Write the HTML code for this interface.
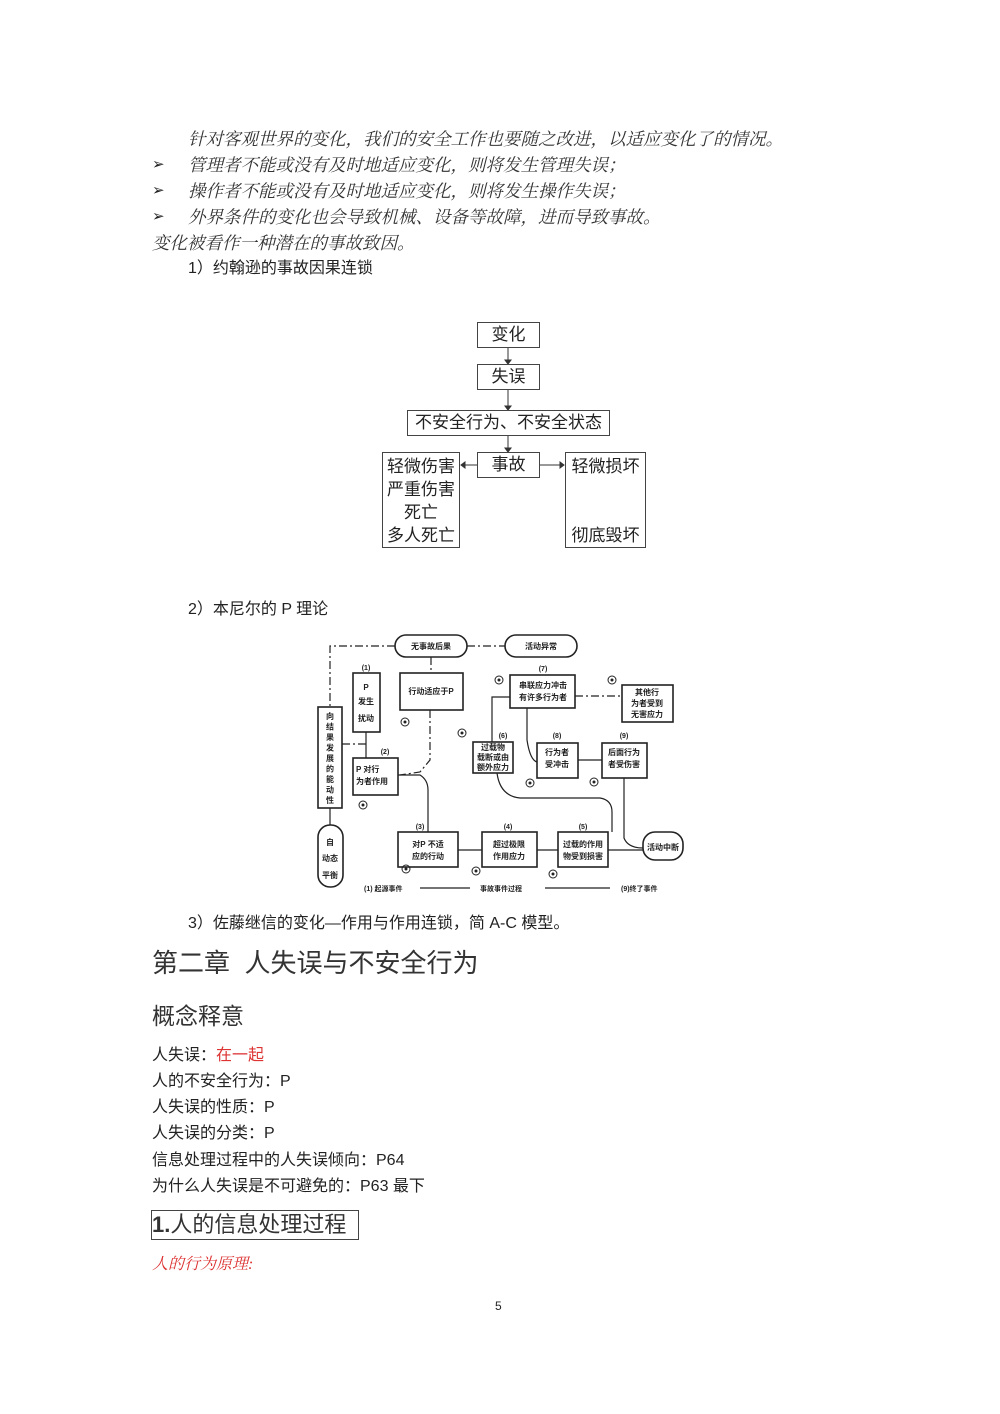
<!DOCTYPE html>
<html><head><meta charset="utf-8"><style>
body{margin:0;background:#fff;}
#p{position:relative;width:1000px;height:1414px;overflow:hidden;font-family:"Liberation Sans","Noto Sans CJK SC",sans-serif;color:#222;}
.t{position:absolute;white-space:nowrap;line-height:1;}
.it{font-family:"Liberation Serif","Noto Serif CJK SC",serif;font-style:italic;font-size:17.5px;color:#333;}
.b{position:absolute;border:1.5px solid #444;box-sizing:border-box;font-size:17px;text-align:center;}
</style></head><body><div id="p">
<div class="t it" style="left:188px;top:131px">针对客观世界的变化，我们的安全工作也要随之改进，以适应变化了的情况。</div>
<div class="t" style="left:152px;top:157px;font-size:15px">➢</div>
<div class="t it" style="left:188px;top:157px">管理者不能或没有及时地适应变化，则将发生管理失误；</div>
<div class="t" style="left:152px;top:183px;font-size:15px">➢</div>
<div class="t it" style="left:188px;top:183px">操作者不能或没有及时地适应变化，则将发生操作失误；</div>
<div class="t" style="left:152px;top:209px;font-size:15px">➢</div>
<div class="t it" style="left:188px;top:209px">外界条件的变化也会导致机械、设备等故障，进而导致事故。</div>
<div class="t it" style="left:152px;top:235px">变化被看作一种潜在的事故致因。</div>
<div class="t" style="left:188px;top:261px;font-size:16px">1）约翰逊的事故因果连锁</div>

<svg style="position:absolute;left:0;top:0" width="1000" height="600">
<g stroke="#333" stroke-width="1" fill="#333">
<line x1="508" y1="348" x2="508" y2="362"/><polygon points="505,360 511,360 508,364"/>
<line x1="508" y1="390" x2="508" y2="408"/><polygon points="505,406 511,406 508,410"/>
<line x1="508" y1="436" x2="508" y2="450"/><polygon points="505,448 511,448 508,452"/>
<line x1="477" y1="465" x2="463" y2="465"/><polygon points="465,462 465,468 461,465"/>
<line x1="540" y1="465" x2="562" y2="465"/><polygon points="560,462 560,468 564,465"/>
</g></svg>
<div class="b" style="left:477px;top:322px;width:63px;height:26px;line-height:24px">变化</div>
<div class="b" style="left:477px;top:364px;width:63px;height:26px;line-height:24px">失误</div>
<div class="b" style="left:407px;top:410px;width:203px;height:26px;line-height:24px">不安全行为、不安全状态</div>
<div class="b" style="left:477px;top:452px;width:63px;height:26px;line-height:24px">事故</div>
<div class="b" style="left:382px;top:452px;width:78px;height:96px;line-height:23px;padding-top:2px">轻微伤害<br>严重伤害<br>死亡<br>多人死亡</div>
<div class="b" style="left:565px;top:452px;width:81px;height:96px;line-height:23px;padding-top:2px">轻微损坏<br><br><br>彻底毁坏</div>

<div class="t" style="left:188px;top:602px;font-size:16px">2）本尼尔的 P 理论</div>

<svg style="position:absolute;left:0;top:0" width="1000" height="1000" font-family="Liberation Sans,Noto Sans CJK SC,sans-serif" font-weight="bold" font-size="8" fill="#222">
<g fill="none" stroke="#222" stroke-width="1.6">
<rect x="395" y="635" width="72" height="22" rx="11"/>
<rect x="505" y="635" width="72" height="22" rx="11"/>
<rect x="353" y="673" width="27" height="59"/>
<rect x="400" y="673" width="63" height="37"/>
<rect x="318" y="707" width="24" height="101"/>
<rect x="353" y="758" width="45" height="37"/>
<rect x="318" y="825" width="25" height="62" rx="12"/>
<rect x="398" y="832" width="60" height="35"/>
<rect x="482" y="832" width="55" height="35"/>
<rect x="558" y="832" width="50" height="35"/>
<rect x="643" y="832" width="40" height="28" rx="12"/>
<rect x="510" y="675" width="65" height="33"/>
<rect x="622" y="685" width="51" height="37"/>
<rect x="473" y="742" width="40" height="31"/>
<rect x="537" y="743" width="41" height="35"/>
<rect x="602" y="743" width="45" height="35"/>
</g>
<g fill="none" stroke="#222" stroke-width="1.2" stroke-dasharray="8,3,2,3">
<polyline points="395,646 330,646 330,707"/>
<line x1="467" y1="646" x2="505" y2="646"/>
<line x1="431" y1="657" x2="431" y2="673"/>
<polyline points="430,710 430,760 420,772 400,775"/>
<line x1="342" y1="744" x2="368" y2="744"/>
<line x1="575" y1="696" x2="620" y2="696"/>
</g>
<g fill="none" stroke="#222" stroke-width="1.2">
<line x1="366" y1="732" x2="366" y2="758"/>
<line x1="330" y1="808" x2="330" y2="825"/>
<path d="M398,775 L420,775 Q428,780 428,790 L428,832"/>
<line x1="458" y1="850" x2="482" y2="850"/>
<line x1="537" y1="850" x2="558" y2="850"/>
<line x1="608" y1="850" x2="643" y2="850"/>
<polyline points="492,742 492,697 510,697"/>
<path d="M527,708 L527,740 Q530,760 537,762"/>
<line x1="578" y1="760" x2="602" y2="760"/>
<path d="M497,773 Q500,796 520,798 L600,798 Q612,800 612,812 L612,832"/>
<path d="M624,778 L624,838 Q628,848 643,848"/>
<line x1="420" y1="888" x2="470" y2="888"/>
<line x1="545" y1="888" x2="610" y2="888"/>
</g>
<g fill="none" stroke="#222" stroke-width="1">
<circle cx="405" cy="722" r="4"/><circle cx="363" cy="805" r="4"/><circle cx="406" cy="869" r="4"/>
<circle cx="476" cy="871" r="4"/><circle cx="553" cy="874" r="4"/><circle cx="499" cy="680" r="4"/>
<circle cx="612" cy="680" r="4"/><circle cx="462" cy="733" r="4"/><circle cx="530" cy="783" r="4"/><circle cx="594" cy="782" r="4"/>
</g>
<g fill="#222"><circle cx="405" cy="722" r="1.5"/><circle cx="363" cy="805" r="1.5"/><circle cx="406" cy="869" r="1.5"/><circle cx="476" cy="871" r="1.5"/><circle cx="553" cy="874" r="1.5"/><circle cx="499" cy="680" r="1.5"/><circle cx="612" cy="680" r="1.5"/><circle cx="462" cy="733" r="1.5"/><circle cx="530" cy="783" r="1.5"/><circle cx="594" cy="782" r="1.5"/></g>
<text x="431" y="649" text-anchor="middle">无事故后果</text>
<text x="541" y="649" text-anchor="middle">活动异常</text>
<text x="366" y="670" text-anchor="middle" font-size="7">(1)</text>
<text x="366" y="690" text-anchor="middle">P</text><text x="366" y="704" text-anchor="middle">发生</text><text x="366" y="721" text-anchor="middle">扰动</text>
<text x="431" y="694" text-anchor="middle">行动适应于P</text>
<g text-anchor="middle"><text x="330" y="719">向</text><text x="330" y="729.5">结</text><text x="330" y="740">果</text><text x="330" y="750.5">发</text><text x="330" y="761">展</text><text x="330" y="771.5">的</text><text x="330" y="782">能</text><text x="330" y="792.5">动</text><text x="330" y="803">性</text></g>
<text x="385" y="754" text-anchor="middle" font-size="7">(2)</text>
<text x="356" y="772">P 对行</text><text x="356" y="784">为者作用</text>
<g text-anchor="middle"><text x="330" y="845">自</text><text x="330" y="861">动态</text><text x="330" y="878">平衡</text></g>
<text x="420" y="829" text-anchor="middle" font-size="7">(3)</text>
<text x="428" y="847" text-anchor="middle">对P 不适</text><text x="428" y="859" text-anchor="middle">应的行动</text>
<text x="508" y="829" text-anchor="middle" font-size="7">(4)</text>
<text x="509" y="847" text-anchor="middle">超过极限</text><text x="509" y="859" text-anchor="middle">作用应力</text>
<text x="583" y="829" text-anchor="middle" font-size="7">(5)</text>
<text x="583" y="847" text-anchor="middle">过载的作用</text><text x="583" y="859" text-anchor="middle">物受到损害</text>
<text x="663" y="850" text-anchor="middle">活动中断</text>
<text x="543" y="671" text-anchor="middle" font-size="7">(7)</text>
<text x="543" y="688" text-anchor="middle">串联应力冲击</text><text x="543" y="700" text-anchor="middle">有许多行为者</text>
<text x="647" y="695" text-anchor="middle">其他行</text><text x="647" y="706" text-anchor="middle">为者受到</text><text x="647" y="717" text-anchor="middle">无害应力</text>
<text x="503" y="738" text-anchor="middle" font-size="7">(6)</text>
<text x="493" y="750" text-anchor="middle">过载物</text><text x="493" y="760" text-anchor="middle">载断或由</text><text x="493" y="770" text-anchor="middle">额外应力</text>
<text x="557" y="738" text-anchor="middle" font-size="7">(8)</text>
<text x="557" y="755" text-anchor="middle">行为者</text><text x="557" y="767" text-anchor="middle">受冲击</text>
<text x="624" y="738" text-anchor="middle" font-size="7">(9)</text>
<text x="624" y="755" text-anchor="middle">后面行为</text><text x="624" y="767" text-anchor="middle">者受伤害</text>
<text x="364" y="891" font-size="7">(1) 起源事件</text>
<text x="480" y="891" font-size="7">事故事件过程</text>
<text x="621" y="891" font-size="7">(9)终了事件</text>
</svg>

<div class="t" style="left:188px;top:916px;font-size:16px">3）佐藤继信的变化—作用与作用连锁，简 A-C 模型。</div>
<div class="t" style="left:152px;top:950px;font-size:26px;color:#333">第二章&nbsp; 人失误与不安全行为</div>
<div class="t" style="left:152px;top:1005px;font-size:23px;color:#333">概念释意</div>
<div class="t" style="left:152px;top:1048px;font-size:16px">人失误：<span style="color:#d33">在一起</span></div>
<div class="t" style="left:152px;top:1074px;font-size:16px">人的不安全行为：P</div>
<div class="t" style="left:152px;top:1100px;font-size:16px">人失误的性质：P</div>
<div class="t" style="left:152px;top:1126px;font-size:16px">人失误的分类：P</div>
<div class="t" style="left:152px;top:1153px;font-size:16px">信息处理过程中的人失误倾向：P64</div>
<div class="t" style="left:152px;top:1179px;font-size:16px">为什么人失误是不可避免的：P63 最下</div>
<div class="t" style="left:151px;top:1210px;width:208px;height:30px;border:1.5px solid #444;box-sizing:border-box;font-size:22px;line-height:28px;color:#333"><b>1.</b>人的信息处理过程</div>
<div class="t it" style="left:152px;top:1257px;color:#d33;font-size:16px">人的行为原理:</div>
<div class="t" style="left:495px;top:1300px;font-size:12px">5</div>
</div></body></html>
